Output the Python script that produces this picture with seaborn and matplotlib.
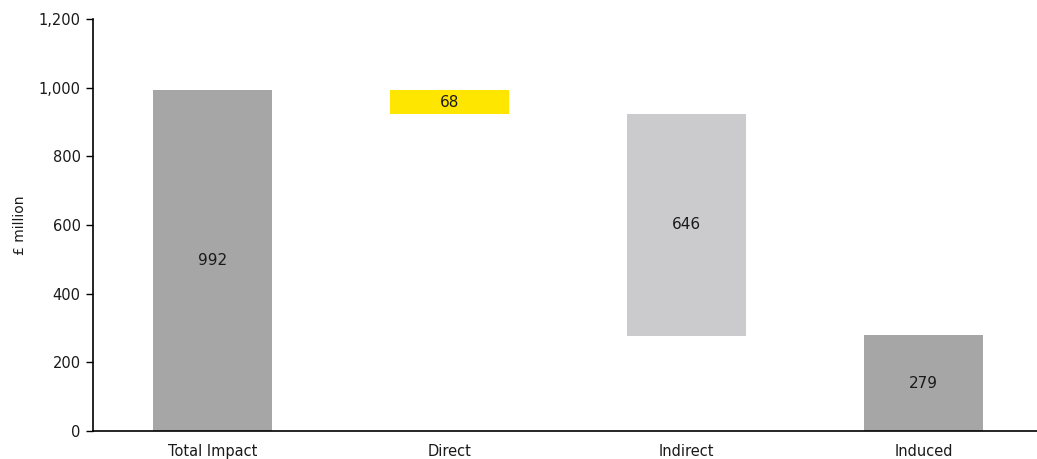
import pandas as pd
import matplotlib
matplotlib.use("Agg")
import matplotlib.pyplot as plt
import seaborn as sns

stages = ["Total Impact", "Direct", "Indirect", "Induced"]
values = [992, 68, 646, 279]
bar_colors = ["#A6A6A6", "#FFE600", "#CBCBCD", "#A6A6A6"]

# waterfall bases: total sits on zero, the parts step down from the total
bases = [0]
running = values[0]
for v in values[1:]:
    running -= v
    bases.append(max(running, 0))

df = pd.DataFrame({"Stage": stages, "Value": values, "Base": bases})

sns.set_theme(style="white")
plt.rcParams["font.family"] = ["DejaVu Sans"]

fig = plt.figure(figsize=(10.37, 4.59), dpi=100)
ax = fig.add_axes([0.0897, 0.061, 0.914, 0.8976])

sns.barplot(data=df, x="Stage", y="Value", bottom=df["Base"], width=0.5,
            color="#A6A6A6", errorbar=None, ax=ax, linewidth=0)

for patch, c in zip(ax.patches, bar_colors):
    patch.set_facecolor(c)
    patch.set_edgecolor(c)

for i, (v, b) in enumerate(zip(values, bases)):
    ax.text(i, b + v / 2, f"{v:,}", ha="center", va="center",
            fontsize=11, color="#1a1a1a")

ax.set_ylim(0, 1200)
ax.set_xlim(-0.505, 3.495)
ax.set_yticks(range(0, 1201, 200))
ax.set_yticklabels([f"{t:,}" for t in range(0, 1201, 200)])
ax.set_xlabel("")
ax.set_ylabel("£ million", fontsize=10, labelpad=8, color="#1a1a1a")

for side in ["top", "right"]:
    ax.spines[side].set_visible(False)
for side in ["left", "bottom"]:
    ax.spines[side].set_color("black")
    ax.spines[side].set_linewidth(1.2)

ax.tick_params(axis="y", left=True, length=5, width=1, color="black",
               labelsize=10.5, labelcolor="#1a1a1a", pad=4)
ax.tick_params(axis="x", bottom=False, labelsize=10.5, labelcolor="#1a1a1a", pad=3)

fig.savefig("out.png", dpi=100)
